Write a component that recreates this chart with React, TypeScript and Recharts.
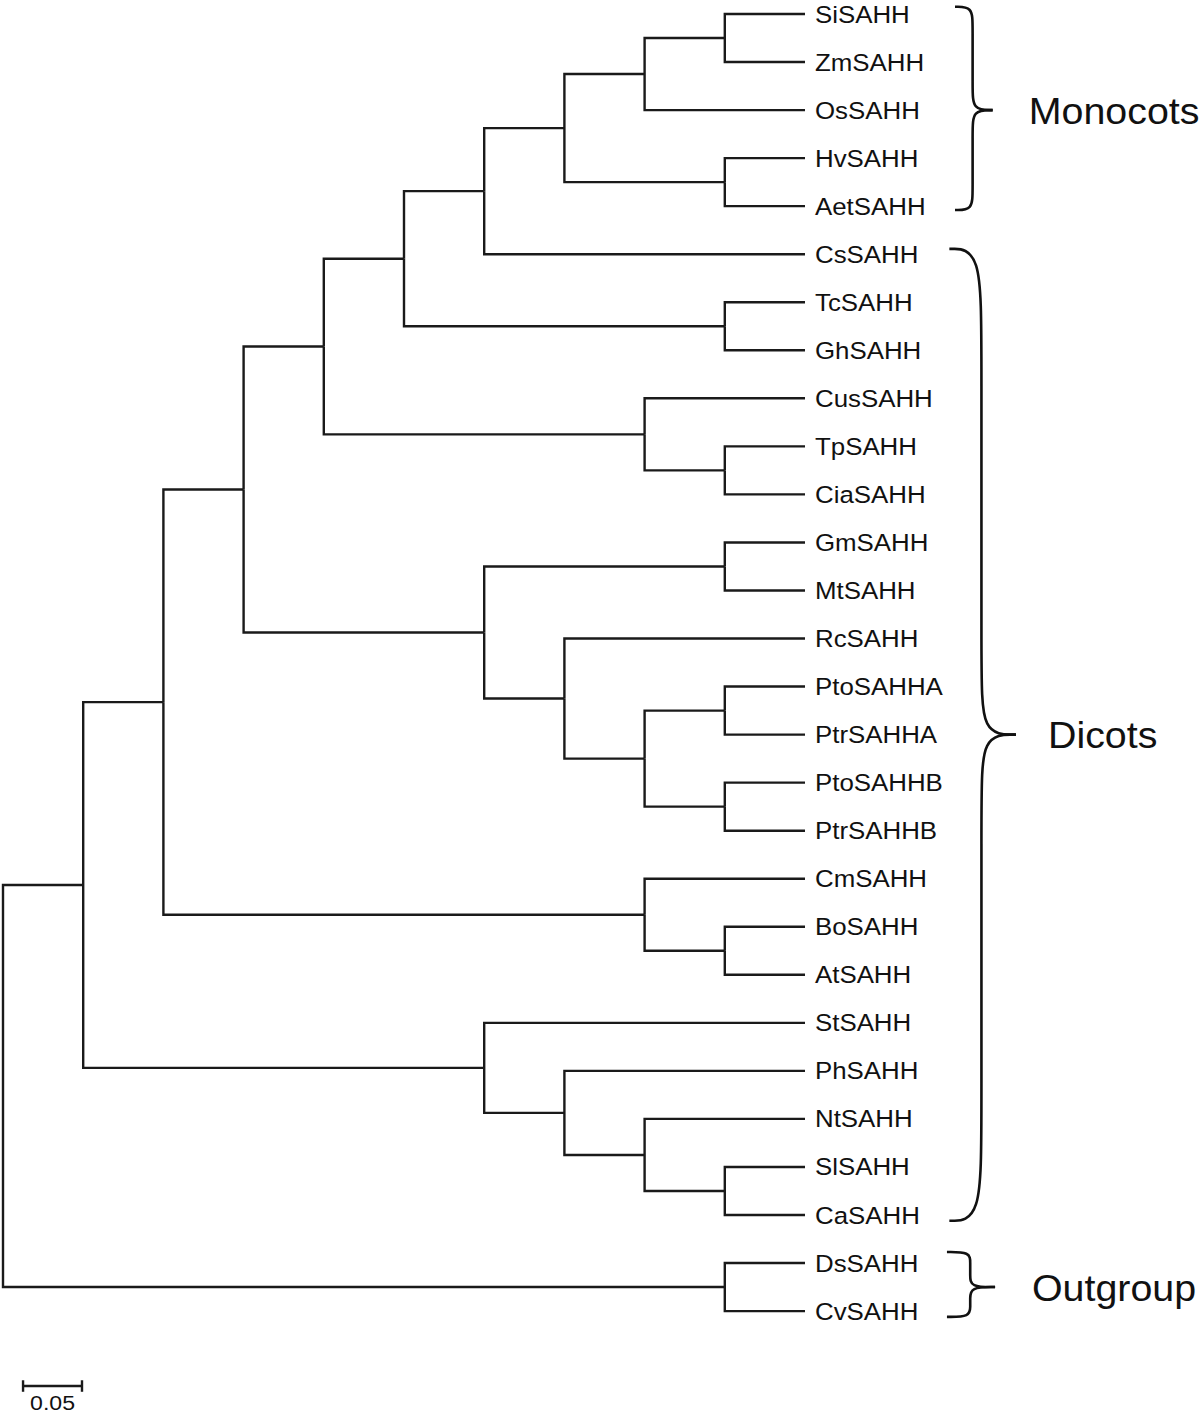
import { ComposedChart, Line, Scatter, XAxis, YAxis } from "recharts";

type Tree = string | Tree[];

// tip order, top to bottom
const LEAVES = [
  "SiSAHH", "ZmSAHH", "OsSAHH", "HvSAHH", "AetSAHH", "CsSAHH", "TcSAHH",
  "GhSAHH", "CusSAHH", "TpSAHH", "CiaSAHH", "GmSAHH", "MtSAHH", "RcSAHH",
  "PtoSAHHA", "PtrSAHHA", "PtoSAHHB", "PtrSAHHB", "CmSAHH", "BoSAHH",
  "AtSAHH", "StSAHH", "PhSAHH", "NtSAHH", "SlSAHH", "CaSAHH", "DsSAHH",
  "CvSAHH",
];

// topology (drawn topology-only, tips aligned)
const MONOCOTS: Tree = [[["SiSAHH", "ZmSAHH"], "OsSAHH"], ["HvSAHH", "AetSAHH"]];
const CLADE_CS: Tree = [MONOCOTS, "CsSAHH"];
const CLADE_TC: Tree = [CLADE_CS, ["TcSAHH", "GhSAHH"]];
const CLADE_CUS: Tree = [CLADE_TC, ["CusSAHH", ["TpSAHH", "CiaSAHH"]]];
const CLADE_GM: Tree = [
  ["GmSAHH", "MtSAHH"],
  ["RcSAHH", [["PtoSAHHA", "PtrSAHHA"], ["PtoSAHHB", "PtrSAHHB"]]],
];
const CLADE_CM: Tree = [[CLADE_CUS, CLADE_GM], ["CmSAHH", ["BoSAHH", "AtSAHH"]]];
const SOLANACEAE: Tree = ["StSAHH", ["PhSAHH", ["NtSAHH", ["SlSAHH", "CaSAHH"]]]];
const OUTGROUP: Tree = ["DsSAHH", "CvSAHH"];
const TREE: Tree = [[CLADE_CM, SOLANACEAE], OUTGROUP];

// bracketed groups: first / last tip index
const GROUP_NAMES = ["Monocots", "Dicots", "Outgroup"];
const GROUP_FIRST = [0, 5, 26];
const GROUP_LAST = [4, 25, 27];

const SCALE_LABEL = "0.05";

// ---- drawing constants ----
const W = 1200;
const H = 1414;
const FONT = "'Liberation Sans', Arial, sans-serif";
const INK = "#1a1a1a";

// brace geometry in axis units (x: node step, y: tip index)
const BRACE = [
  { open: 11.87, spine: 12.09, tip: 12.34, text: 12.79, padTop: 0.15, padBot: 0.08, rTop: 0.4, rTip: 0.45 },
  { open: 11.80, spine: 12.20, tip: 12.63, text: 13.03, padTop: 0.11, padBot: 0.12, rTop: 2.1, rTip: 1.4 },
  { open: 11.77, spine: 12.06, tip: 12.37, text: 12.83, padTop: 0.23, padBot: 0.12, rTop: 0.22, rTip: 0.25 },
];

type Node = { name?: string; kids: Node[]; y: number; h: number };

function build(t: Tree): Node {
  if (typeof t === "string") return { name: t, kids: [], y: LEAVES.indexOf(t), h: 0 };
  const kids = t.map(build);
  return {
    kids,
    y: (kids[0].y + kids[kids.length - 1].y) / 2,
    h: 1 + Math.max(...kids.map((k) => k.h)),
  };
}

type Pt = { x: number; y: number };

function edges(n: Node, depth: number, out: Pt[][]) {
  const nx = depth - n.h;
  n.kids.forEach((k) => {
    const kx = depth - k.h;
    out.push([
      { x: nx, y: n.y },
      { x: nx, y: k.y },
      { x: kx, y: k.y },
    ]);
    edges(k, depth, out);
  });
}

const root = build(TREE);
const DEPTH = root.h;
const branches: Pt[][] = [];
edges(root, DEPTH, branches);

const tips = LEAVES.map((name, i) => ({ x: DEPTH, y: i, name }));

const braces = GROUP_NAMES.map((_, i) => {
  const b = BRACE[i];
  const top = GROUP_FIRST[i] - b.padTop;
  const bot = GROUP_LAST[i] + b.padBot;
  const mid = (GROUP_FIRST[i] + GROUP_LAST[i]) / 2;
  return [
    [
      { x: b.open, y: top }, { x: b.spine, y: top }, { x: b.spine, y: top + b.rTop },
      { x: b.spine, y: mid - b.rTip }, { x: b.spine, y: mid }, { x: b.tip, y: mid },
    ],
    [
      { x: b.open, y: bot }, { x: b.spine, y: bot }, { x: b.spine, y: bot - b.rTop },
      { x: b.spine, y: mid + b.rTip }, { x: b.spine, y: mid }, { x: b.tip, y: mid },
    ],
  ];
});

const groupLabels = GROUP_NAMES.map((name, i) => ({
  x: BRACE[i].text,
  y: (GROUP_FIRST[i] + GROUP_LAST[i]) / 2,
  name,
}));

// scale bar
const SB = { x0: 0.25, x1: 0.985, y: 28.56, tick: 0.12 };
const scaleParts: Pt[][] = [
  [{ x: SB.x0, y: SB.y }, { x: SB.x1, y: SB.y }],
  [{ x: SB.x0, y: SB.y - SB.tick }, { x: SB.x0, y: SB.y + SB.tick }],
  [{ x: SB.x1, y: SB.y - SB.tick }, { x: SB.x1, y: SB.y + SB.tick }],
];

// axis domains: px = 3 + x*80.2 ; py = 14 + y*48.04
const X_DOMAIN = [-3 / 80.2, (W - 3) / 80.2];
const Y_DOMAIN = [-14 / 48.04, (H - 14) / 48.04];

// the original lettering is slightly stretched sideways
function Stretched(props: {
  x: number; y: number; size: number; sx: number; anchor?: string; children: string;
}) {
  return (
    <text
      transform={`translate(${props.x},${props.y}) scale(${props.sx},1)`}
      fontSize={props.size}
      fontFamily={FONT}
      textAnchor={props.anchor || "start"}
      fill="#111"
    >
      {props.children}
    </text>
  );
}

export default function App() {
  return (
    <div style={{ position: "absolute", left: 0, top: 0, width: W, height: H, background: "#fff" }}>
      <ComposedChart width={W} height={H} margin={{ top: 0, right: 0, bottom: 0, left: 0 }}>
        <XAxis type="number" dataKey="x" domain={X_DOMAIN} hide />
        <YAxis type="number" dataKey="y" domain={Y_DOMAIN} reversed hide />

        {branches.map((d, i) => (
          <Line
            key={"b" + i}
            data={d}
            dataKey="y"
            type="linear"
            stroke={INK}
            strokeWidth={2.4}
            dot={false}
            activeDot={false}
            isAnimationActive={false}
          />
        ))}

        {braces.flat().map((d, i) => (
          <Line
            key={"br" + i}
            data={d}
            dataKey="y"
            type="basis"
            stroke="#111"
            strokeWidth={2.6}
            dot={false}
            activeDot={false}
            isAnimationActive={false}
          />
        ))}

        {scaleParts.map((d, i) => (
          <Line
            key={"s" + i}
            data={d}
            dataKey="y"
            type="linear"
            stroke={INK}
            strokeWidth={2.4}
            dot={false}
            activeDot={false}
            isAnimationActive={false}
          />
        ))}

        <Scatter
          data={tips}
          dataKey="y"
          isAnimationActive={false}
          shape={(p: any) => (
            <Stretched x={p.cx + 10} y={p.cy + 8.5} size={23.5} sx={1.1}>
              {p.payload.name}
            </Stretched>
          )}
        />

        <Scatter
          data={groupLabels}
          dataKey="y"
          isAnimationActive={false}
          shape={(p: any) => (
            <Stretched x={p.cx} y={p.cy + 13.5} size={37.5} sx={1.05}>
              {p.payload.name}
            </Stretched>
          )}
        />

        <Scatter
          data={[{ x: (SB.x0 + SB.x1) / 2, y: SB.y, name: SCALE_LABEL }]}
          dataKey="y"
          isAnimationActive={false}
          shape={(p: any) => (
            <Stretched x={p.cx} y={p.cy + 24} size={21} sx={1.1} anchor="middle">
              {p.payload.name}
            </Stretched>
          )}
        />
      </ComposedChart>
    </div>
  );
}
